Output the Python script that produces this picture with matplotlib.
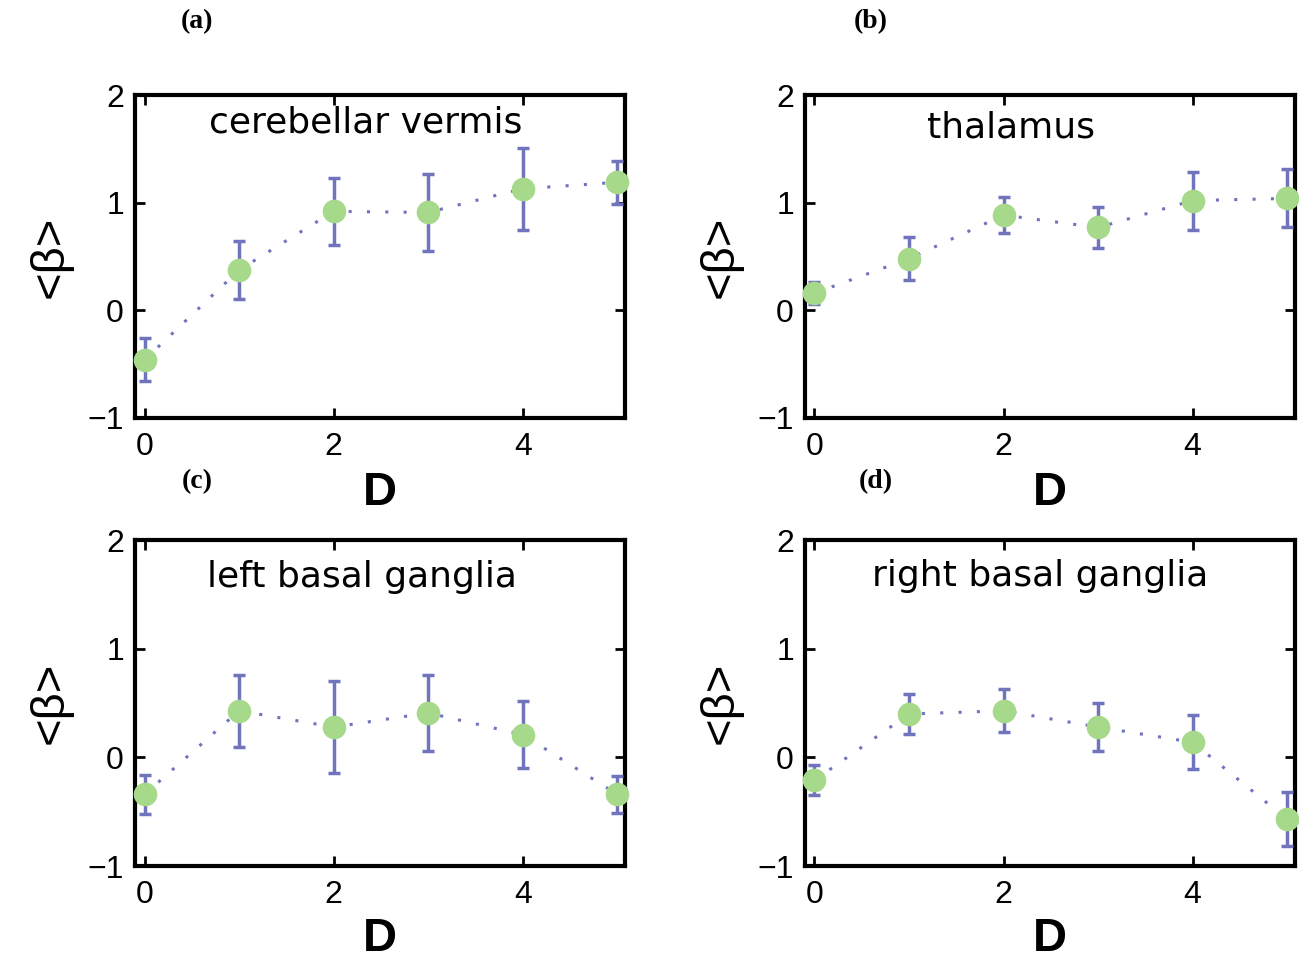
import matplotlib
matplotlib.use("Agg")
import matplotlib.pyplot as plt
import numpy as np

D = [0, 1, 2, 3, 4, 5]

titles = ["cerebellar vermis", "thalamus", "left basal ganglia", "right basal ganglia"]
panel_labels = ["(a)", "(b)", "(c)", "(d)"]

beta_a = [-0.46, 0.375, 0.92, 0.91, 1.13, 1.19]
err_a = [0.20, 0.27, 0.31, 0.36, 0.38, 0.20]

beta_b = [0.16, 0.48, 0.885, 0.77, 1.02, 1.04]
err_b = [0.10, 0.20, 0.17, 0.19, 0.27, 0.27]

beta_c = [-0.34, 0.43, 0.28, 0.41, 0.21, -0.34]
err_c = [0.18, 0.33, 0.42, 0.35, 0.31, 0.17]

beta_d = [-0.21, 0.40, 0.43, 0.28, 0.14, -0.57]
err_d = [0.14, 0.18, 0.20, 0.22, 0.25, 0.25]

xticks = [0, 2, 4]
yticks = [-1, 0, 1, 2]

series = [(beta_a, err_a), (beta_b, err_b), (beta_c, err_c), (beta_d, err_d)]

plt.rcParams['font.family'] = ['Liberation Sans', 'DejaVu Sans']

fig = plt.figure(figsize=(12.99, 9.58), dpi=100)

positions = [
    [0.104, 0.5637, 0.377, 0.337],
    [0.6197, 0.5637, 0.377, 0.337],
    [0.104, 0.096, 0.377, 0.340],
    [0.6197, 0.096, 0.377, 0.340],
]
title_pos = [(0.47, 0.915), (0.42, 0.90), (0.463, 0.886), (0.48, 0.89)]
label_pos = [(0.152, 0.977), (0.670, 0.977), (0.152, 0.497), (0.674, 0.497)]
dlabel_y = [-0.165, -0.165, -0.155, -0.155]

err_color = "#6f74bd"
mk_color = "#a6d98a"

for i, (pos, (b, e)) in enumerate(zip(positions, series)):
    ax = fig.add_axes(pos)
    ax.plot(D, b, linestyle=(0, (1, 5)), color=err_color, linewidth=2.2, zorder=2)
    ax.errorbar(D, b, yerr=e, fmt='none', ecolor=err_color, elinewidth=2.5,
                capsize=4, capthick=2.5, zorder=3, clip_on=False)
    ax.plot(D, b, linestyle='none', marker='o', markersize=16, color=mk_color,
            markeredgecolor=mk_color, zorder=4, clip_on=False)
    ax.set_xlim(-0.1, 5.08)
    ax.set_ylim(-1, 2)
    ax.set_xticks(xticks)
    ax.set_yticks(yticks)
    ax.tick_params(direction='in', length=7, width=2, top=True, right=True,
                   labelsize=23)
    ax.tick_params(axis='x', pad=10)
    ax.tick_params(axis='y', pad=8)
    for s in ax.spines.values():
        s.set_linewidth(3)
    ax.set_xlabel("D", fontsize=34, fontweight='bold')
    ax.xaxis.set_label_coords(0.5, dlabel_y[i])
    ax.set_ylabel("<β>", fontsize=34)
    ax.yaxis.set_label_coords(-0.128, 0.5)
    ax.text(title_pos[i][0], title_pos[i][1], titles[i], transform=ax.transAxes,
            ha='center', va='center', fontsize=26, family='DejaVu Sans')
    fig.text(label_pos[i][0], label_pos[i][1], panel_labels[i], ha='center', va='center',
             fontsize=20, fontweight='bold', family='Liberation Serif')

fig.savefig("out.png", dpi=100)
